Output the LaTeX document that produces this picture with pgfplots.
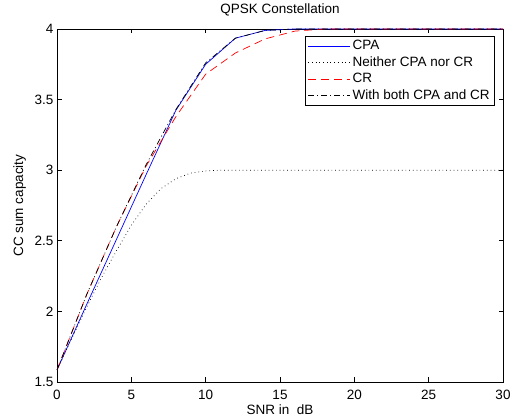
\documentclass[border=0pt]{standalone}
\usepackage{fontspec}
\setmainfont{Liberation Sans}
\usepackage{pgfplots}
\pgfplotsset{compat=1.18}
\begin{document}
\begin{tikzpicture}
\begin{axis}[
  scale only axis, width=446pt, height=353pt,
  at={(0pt,0pt)}, anchor=south west,
  xmin=0, xmax=30, ymin=1.5, ymax=4,
  xtick={0,5,...,30}, ytick={1.5,2,2.5,3,3.5,4},
  tick align=inside, major tick length=4.5pt,
  axis line style={line width=0.8pt},
  every tick/.style={black, line width=0.6pt},
  font=\fontsize{13.5}{16}\selectfont,
  /pgf/number format/assume math mode=true,
  ticklabel style={font=\fontsize{13.5}{16}\selectfont},
  xticklabel style={anchor=base, yshift=-17pt},
  title={QPSK Constellation},
  title style={at={(axis description cs:0.5,1.0283)}, anchor=base},
  xlabel={SNR in~ dB},
  xlabel style={at={(axis description cs:0.5,-0.0907)}, anchor=base},
  ylabel={CC sum capacity},
  ylabel style={at={(axis description cs:-0.0762,0.5)}, anchor=base},
  legend style={at={(axis description cs:1,1)}, anchor=north east,
    xshift=-8pt, yshift=-7pt, draw=black, line width=0.6pt, fill=white,
    inner xsep=3pt, inner ysep=1.5pt, row sep=0pt,
    font=\fontsize{13.5}{16}\selectfont,
    nodes={inner sep=2pt, text height=10pt, text depth=2.5pt}},
  legend cell align=left,
  legend image code/.code={\draw[#1] (0pt,0pt) -- (42pt,0pt);},
]
\addplot[blue, line width=0.7pt] coordinates {
(0,1.585)(2,2.05)(4,2.51)(6,2.97)(8,3.425)(10,3.75)(12,3.935)(14,3.99)(16,4.0)(18,4.0)(20,4.0)(22,4.0)(24,4.0)(26,4.0)(28,4.0)(30,4.0)};
\addlegendentry{CPA}
\addplot[black, line width=0.7pt, dash pattern=on 0.7pt off 3pt] coordinates {
(0,1.585)(1,1.81)(2,2.03)(3,2.24)(4,2.43)(5,2.61)(6,2.76)(7,2.87)(8,2.94)(9,2.98)(10,2.995)(11,3.0)(12,3.0)(14,3.0)(16,3.0)(18,3.0)(20,3.0)(22,3.0)(24,3.0)(26,3.0)(28,3.0)(30,3.0)};
\addlegendentry{Neither CPA nor CR}
\addplot[red, line width=0.7pt, dash pattern=on 8pt off 5pt] coordinates {
(0,1.585)(2,2.12)(4,2.6)(6,3.03)(8,3.38)(10,3.68)(12,3.83)(14,3.93)(16,3.985)(18,4.0)(20,4.0)(22,4.0)(24,4.0)(26,4.0)(28,4.0)(30,4.0)};
\addlegendentry{CR}
\addplot[black, line width=0.7pt, dash pattern=on 6pt off 3pt on 1pt off 3pt] coordinates {
(0,1.585)(2,2.12)(4,2.6)(6,3.04)(8,3.43)(10,3.76)(12,3.935)(14,3.99)(16,4.0)(18,4.0)(20,4.0)(22,4.0)(24,4.0)(26,4.0)(28,4.0)(30,4.0)};
\addlegendentry{With both CPA and CR}
\end{axis}
\pgfresetboundingbox
\useasboundingbox (-57pt,-35pt) rectangle (459pt,382pt);
\end{tikzpicture}
\end{document}
